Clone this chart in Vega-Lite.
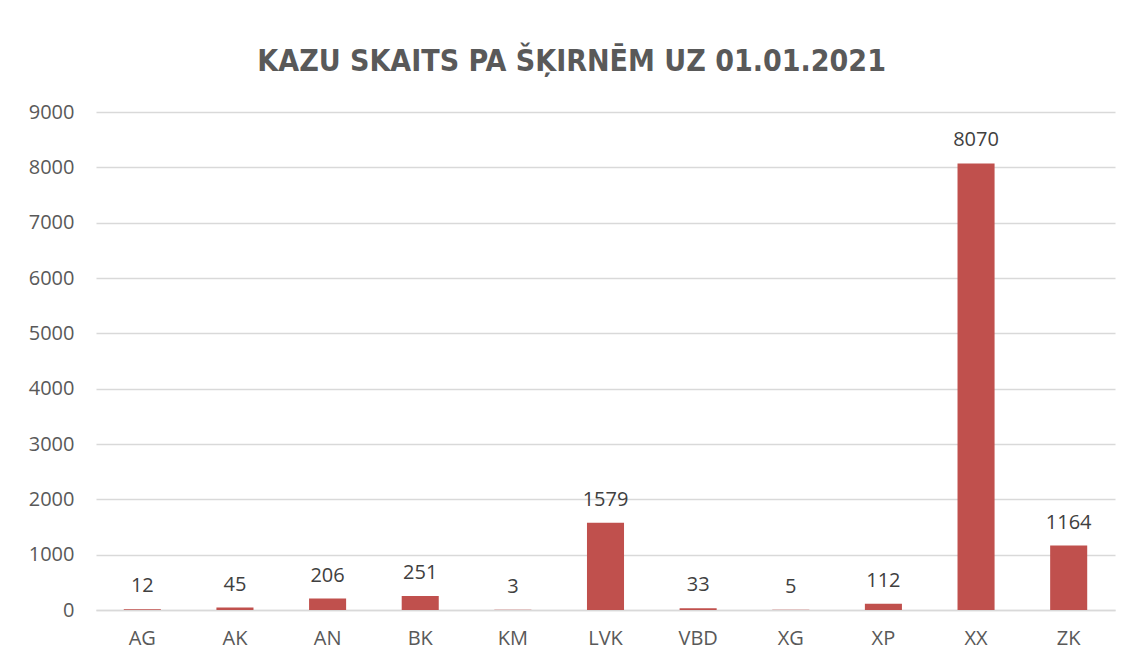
{
  "$schema": "https://vega.github.io/schema/vega-lite/v6.json",
  "autosize": {"type": "none"},
  "width": 1019,
  "height": 498,
  "padding": {"left": 96, "top": 112, "right": 18, "bottom": 54},
  "background": "white",
  "title": {
    "text": "KAZU SKAITS PA ŠĶIRNĒM UZ 01.01.2021",
    "font": "DejaVu Sans Condensed",
    "fontSize": 30,
    "fontWeight": "bold",
    "color": "#595959",
    "anchor": "middle",
    "frame": "bounds",
    "offset": 25
  },
  "data": {
    "values": [
      {"breed": "AG", "count": 12},
      {"breed": "AK", "count": 45},
      {"breed": "AN", "count": 206},
      {"breed": "BK", "count": 251},
      {"breed": "KM", "count": 3},
      {"breed": "LVK", "count": 1579},
      {"breed": "VBD", "count": 33},
      {"breed": "XG", "count": 5},
      {"breed": "XP", "count": 112},
      {"breed": "XX", "count": 8070},
      {"breed": "ZK", "count": 1164}
    ]
  },
  "encoding": {
    "x": {
      "field": "breed",
      "type": "nominal",
      "sort": null,
      "scale": {"paddingInner": 0.6, "paddingOuter": 0.3},
      "axis": {
        "title": null,
        "labelAngle": 0,
        "labelFont": "Open Sans",
        "labelFontSize": 20,
        "labelColor": "#595959",
        "labelPadding": 18,
        "ticks": false,
        "domainColor": "#d9d9d9",
        "domainWidth": 1.3
      }
    },
    "y": {
      "field": "count",
      "type": "quantitative",
      "scale": {"domain": [0, 9000], "nice": false},
      "axis": {
        "title": null,
        "format": "d",
        "values": [0, 1000, 2000, 3000, 4000, 5000, 6000, 7000, 8000, 9000],
        "labelFont": "Open Sans",
        "labelFontSize": 20,
        "labelColor": "#595959",
        "labelPadding": 22,
        "ticks": false,
        "domain": false,
        "grid": true,
        "gridColor": "#d9d9d9",
        "gridWidth": 1.3
      }
    }
  },
  "layer": [
    {"mark": {"type": "bar", "color": "#C0504D"}},
    {
      "mark": {
        "type": "text",
        "baseline": "bottom",
        "dy": -13,
        "font": "Open Sans",
        "fontSize": 20,
        "color": "#404040"
      },
      "encoding": {"text": {"field": "count", "type": "quantitative", "format": "d"}}
    }
  ],
  "config": {"view": {"stroke": null}}
}
